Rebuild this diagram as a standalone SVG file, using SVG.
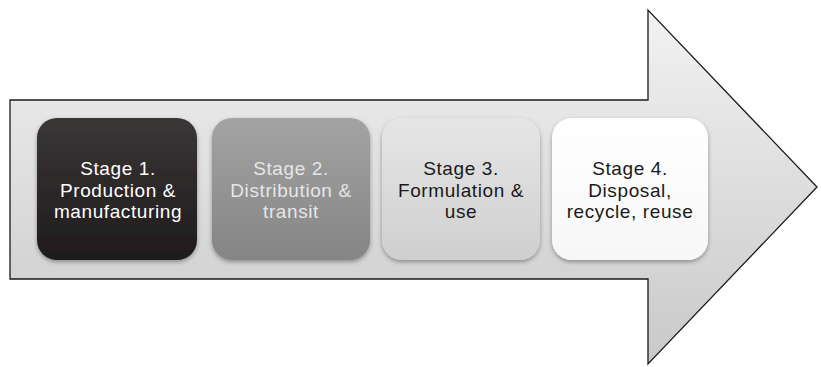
<svg xmlns="http://www.w3.org/2000/svg" width="821" height="367" viewBox="0 0 821 367">
<defs>
<linearGradient id="ag" x1="0" y1="0" x2="0" y2="1">
<stop offset="0" stop-color="#f2f2f2"/><stop offset="1" stop-color="#c9c9c9"/>
</linearGradient>
<linearGradient id="g1" x1="0" y1="0" x2="0" y2="1"><stop offset="0" stop-color="#3a3637"/><stop offset="1" stop-color="#1e1b1c"/></linearGradient>
<linearGradient id="g2" x1="0" y1="0" x2="0" y2="1"><stop offset="0" stop-color="#a3a3a3"/><stop offset="1" stop-color="#858585"/></linearGradient>
<linearGradient id="g3" x1="0" y1="0" x2="0" y2="1"><stop offset="0" stop-color="#e6e6e6"/><stop offset="1" stop-color="#cfcfcf"/></linearGradient>
<linearGradient id="g4" x1="0" y1="0" x2="0" y2="1"><stop offset="0" stop-color="#ffffff"/><stop offset="1" stop-color="#f7f7f7"/></linearGradient>
<filter id="sh" x="-10%" y="-10%" width="120%" height="125%"><feDropShadow dx="0" dy="2" stdDeviation="2" flood-color="#000" flood-opacity="0.35"/></filter>
</defs>
<style>
.box{filter:url(#sh)}
.t{font-family:"Liberation Sans",Arial,sans-serif;font-size:19px;letter-spacing:0.6px;text-anchor:middle}
</style>
<g id="arrow">
<path d="M10,100 H648 V10 L817,187 L648,364 V279 H10 Z" fill="url(#ag)" stroke="#1a1a1a" stroke-width="1.3"/>
</g>
<g id="stage1">
<rect class="box" x="37" y="118" width="160" height="142" rx="20" fill="url(#g1)"/>
<text class="t" fill="#ffffff"><tspan x="118" y="175">Stage 1.</tspan><tspan x="118" y="196.5">Production &amp;</tspan><tspan x="118" y="218">manufacturing</tspan></text>
</g>
<g id="stage2">
<rect class="box" x="212" y="118" width="158" height="142" rx="20" fill="url(#g2)"/>
<text class="t" fill="#e6e6e6"><tspan x="291" y="175">Stage 2.</tspan><tspan x="291" y="196.5">Distribution &amp;</tspan><tspan x="291" y="218">transit</tspan></text>
</g>
<g id="stage3">
<rect class="box" x="382" y="118" width="158" height="142" rx="20" fill="url(#g3)"/>
<text class="t" fill="#1a1a1a"><tspan x="461" y="175">Stage 3.</tspan><tspan x="461" y="196.5">Formulation &amp;</tspan><tspan x="461" y="218">use</tspan></text>
</g>
<g id="stage4">
<rect class="box" x="552" y="118" width="156" height="142" rx="20" fill="url(#g4)"/>
<text class="t" fill="#1a1a1a"><tspan x="630" y="175">Stage 4.</tspan><tspan x="630" y="196.5">Disposal,</tspan><tspan x="630" y="218">recycle, reuse</tspan></text>
</g>
</svg>
